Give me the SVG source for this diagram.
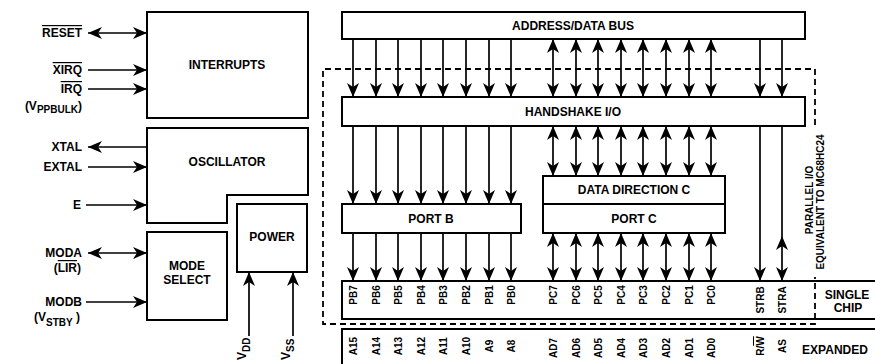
<svg xmlns="http://www.w3.org/2000/svg" width="875" height="364" viewBox="0 0 875 364">
<defs>
<style>
.box{fill:#fff;stroke:#000;stroke-width:2}
.edge{fill:none;stroke:#000;stroke-width:2}
.ln{fill:none;stroke:#000;stroke-width:1.7}
.a1{marker-end:url(#ah)}
.a2{marker-start:url(#ah);marker-end:url(#ah)}
.dash{fill:none;stroke:#000;stroke-width:1.8;stroke-dasharray:6 4}
text{font-family:"Liberation Sans",Arial,sans-serif;font-weight:bold;fill:#000}
.t{font-size:12px}
.c{text-anchor:middle}
.e{text-anchor:end}
.p{font-size:10px;text-anchor:middle;dominant-baseline:central}
.ov{text-decoration:overline}
</style>
<marker id="ah" viewBox="0 0 14 12" refX="14" refY="6" markerWidth="14" markerHeight="12" markerUnits="userSpaceOnUse" orient="auto-start-reverse">
<path d="M0,0 L14,6 L0,12 L4,6 z" fill="#000"/>
</marker>
</defs>
<rect width="875" height="364" fill="#fff"/>

<g id="interrupts"><rect class="box" x="147" y="12" width="161" height="106"/><text class="t c" x="227" y="69">INTERRUPTS</text></g>
<g id="oscillator"><path class="box" d="M147,128 H308 V195 H227 V223 H147 Z"/><text class="t c" x="227" y="166">OSCILLATOR</text></g>
<g id="mode-select"><rect class="box" x="147" y="232" width="80" height="88"/><text class="t c" x="187" y="270">MODE</text><text class="t c" x="187" y="284">SELECT</text></g>
<g id="power"><rect class="box" x="237" y="204" width="70" height="68"/><text class="t c" x="272" y="241">POWER</text></g>
<g id="address-data-bus"><rect class="box" x="342" y="12" width="463" height="27"/><text class="t c" x="573" y="30">ADDRESS/DATA BUS</text></g>
<g id="handshake-io"><rect class="box" x="342" y="97" width="463" height="29"/><text class="t c" x="573" y="116">HANDSHAKE I/O</text></g>
<g id="port-b"><rect class="box" x="342" y="204" width="179" height="29"/><text class="t c" x="431" y="223">PORT B</text></g>
<g id="data-direction-c"><rect class="box" x="543" y="176" width="182" height="28"/><text class="t c" x="634" y="194">DATA DIRECTION C</text></g>
<g id="port-c"><rect class="box" x="543" y="204" width="182" height="29"/><text class="t c" x="634" y="223">PORT C</text></g>

<g id="parallel-io-boundary">
<path class="dash" d="M815,125 V69 H323 V324 H815 V277"/>
<text class="p" transform="translate(809,200) rotate(-90)">PARALLEL I/O</text>
<text class="p" transform="translate(820,202) rotate(-90)">EQUIVALENT TO MC68HC24</text>
</g>

<g id="single-chip-pins">
<path class="edge" d="M875,281 H342 V319 H875"/>
<text class="p" transform="translate(353,295) rotate(-90)">PB7</text>
<text class="p" transform="translate(376,295) rotate(-90)">PB6</text>
<text class="p" transform="translate(398,295) rotate(-90)">PB5</text>
<text class="p" transform="translate(421,295) rotate(-90)">PB4</text>
<text class="p" transform="translate(443,295) rotate(-90)">PB3</text>
<text class="p" transform="translate(466,295) rotate(-90)">PB2</text>
<text class="p" transform="translate(489,295) rotate(-90)">PB1</text>
<text class="p" transform="translate(511,295) rotate(-90)">PB0</text>
<text class="p" transform="translate(553,295) rotate(-90)">PC7</text>
<text class="p" transform="translate(576,295) rotate(-90)">PC6</text>
<text class="p" transform="translate(598,295) rotate(-90)">PC5</text>
<text class="p" transform="translate(621,295) rotate(-90)">PC4</text>
<text class="p" transform="translate(643,295) rotate(-90)">PC3</text>
<text class="p" transform="translate(666,295) rotate(-90)">PC2</text>
<text class="p" transform="translate(689,295) rotate(-90)">PC1</text>
<text class="p" transform="translate(711,295) rotate(-90)">PC0</text>
<text class="p" transform="translate(760,300) rotate(-90)">STRB</text>
<text class="p" transform="translate(782,300) rotate(-90)">STRA</text>
<text class="t c" x="847" y="299">SINGLE</text>
<text class="t c" x="848" y="312">CHIP</text>
</g>

<g id="expanded-pins">
<path class="edge" d="M875,329 H342 V364"/>
<text class="p" transform="translate(353,346) rotate(-90)">A15</text>
<text class="p" transform="translate(376,346) rotate(-90)">A14</text>
<text class="p" transform="translate(398,346) rotate(-90)">A13</text>
<text class="p" transform="translate(421,346) rotate(-90)">A12</text>
<text class="p" transform="translate(443,346) rotate(-90)">A11</text>
<text class="p" transform="translate(466,346) rotate(-90)">A10</text>
<text class="p" transform="translate(489,346) rotate(-90)">A9</text>
<text class="p" transform="translate(511,346) rotate(-90)">A8</text>
<text class="p" transform="translate(553,348) rotate(-90)">AD7</text>
<text class="p" transform="translate(576,348) rotate(-90)">AD6</text>
<text class="p" transform="translate(598,348) rotate(-90)">AD5</text>
<text class="p" transform="translate(621,348) rotate(-90)">AD4</text>
<text class="p" transform="translate(643,348) rotate(-90)">AD3</text>
<text class="p" transform="translate(666,348) rotate(-90)">AD2</text>
<text class="p" transform="translate(689,348) rotate(-90)">AD1</text>
<text class="p" transform="translate(711,348) rotate(-90)">AD0</text>
<text class="p" transform="translate(760,346) rotate(-90)">R/<tspan class="ov">W</tspan></text>
<text class="p" transform="translate(782,346) rotate(-90)">AS</text>
<text class="t c" x="835" y="354">EXPANDED</text>
</g>

<g id="signal-labels">
<text class="t e ov" x="82" y="37">RESET</text>
<text class="t e ov" x="82" y="74">XIRQ</text>
<text class="t e ov" x="82" y="93">IRQ</text>
<text class="t e" x="82" y="110">(V<tspan font-size="10" dy="3">PPBULK</tspan><tspan dy="-3">)</tspan></text>
<text class="t e" x="82" y="151">XTAL</text>
<text class="t e" x="82" y="171">EXTAL</text>
<text class="t e" x="81" y="209">E</text>
<text class="t e" x="82" y="257">MODA</text>
<text class="t e" x="81" y="272">(<tspan class="ov">LIR</tspan>)</text>
<text class="t e" x="82" y="306">MODB</text>
<text class="t e" x="80" y="321">(V<tspan font-size="10" dy="5">STBY</tspan><tspan dy="-5"> )</tspan></text>
<text class="t" transform="translate(246,360) rotate(-90)">V<tspan font-size="10" dy="4">DD</tspan></text>
<text class="t" transform="translate(290,360) rotate(-90)">V<tspan font-size="10" dy="4">SS</tspan></text>
</g>

<g id="connectors" class="ln">
<path class="a2" d="M88,33 H147"/>
<path class="a1" d="M88,70 H147"/>
<path class="a1" d="M88,89 H147"/>
<path class="a1" d="M147,147 H88"/>
<path class="a1" d="M88,167 H147"/>
<path class="a1" d="M86,205 H147"/>
<path class="a2" d="M88,253 H147"/>
<path class="a1" d="M86,302 H147"/>
<path class="a1" d="M249,336 V272"/>
<path class="a1" d="M293,336 V272"/>

<path class="a1" d="M353,39 V97"/><path class="a1" d="M376,39 V97"/><path class="a1" d="M398,39 V97"/><path class="a1" d="M421,39 V97"/>
<path class="a1" d="M443,39 V97"/><path class="a1" d="M466,39 V97"/><path class="a1" d="M489,39 V97"/><path class="a1" d="M511,39 V97"/>
<path class="a2" d="M553,39 V97"/><path class="a2" d="M576,39 V97"/><path class="a2" d="M598,39 V97"/><path class="a2" d="M621,39 V97"/>
<path class="a2" d="M643,39 V97"/><path class="a2" d="M666,39 V97"/><path class="a2" d="M689,39 V97"/><path class="a2" d="M711,39 V97"/>
<path class="a1" d="M760,39 V97"/><path class="a1" d="M782,39 V97"/>

<path class="a1" d="M353,126 V204"/><path class="a1" d="M376,126 V204"/><path class="a1" d="M398,126 V204"/><path class="a1" d="M421,126 V204"/>
<path class="a1" d="M443,126 V204"/><path class="a1" d="M466,126 V204"/><path class="a1" d="M489,126 V204"/><path class="a1" d="M511,126 V204"/>
<path class="a2" d="M553,126 V176"/><path class="a2" d="M576,126 V176"/><path class="a2" d="M598,126 V176"/><path class="a2" d="M621,126 V176"/>
<path class="a2" d="M643,126 V176"/><path class="a2" d="M666,126 V176"/><path class="a2" d="M689,126 V176"/><path class="a2" d="M711,126 V176"/>

<path class="a1" d="M353,233 V281"/><path class="a1" d="M376,233 V281"/><path class="a1" d="M398,233 V281"/><path class="a1" d="M421,233 V281"/>
<path class="a1" d="M443,233 V281"/><path class="a1" d="M466,233 V281"/><path class="a1" d="M489,233 V281"/><path class="a1" d="M511,233 V281"/>
<path class="a2" d="M553,233 V281"/><path class="a2" d="M576,233 V281"/><path class="a2" d="M598,233 V281"/><path class="a2" d="M621,233 V281"/>
<path class="a2" d="M643,233 V281"/><path class="a2" d="M666,233 V281"/><path class="a2" d="M689,233 V281"/><path class="a2" d="M711,233 V281"/>

<path class="a1" d="M760,126 V281"/>
<path d="M782,126 V236"/>
<path class="a2" d="M782,236 V281"/>
</g>
</svg>
